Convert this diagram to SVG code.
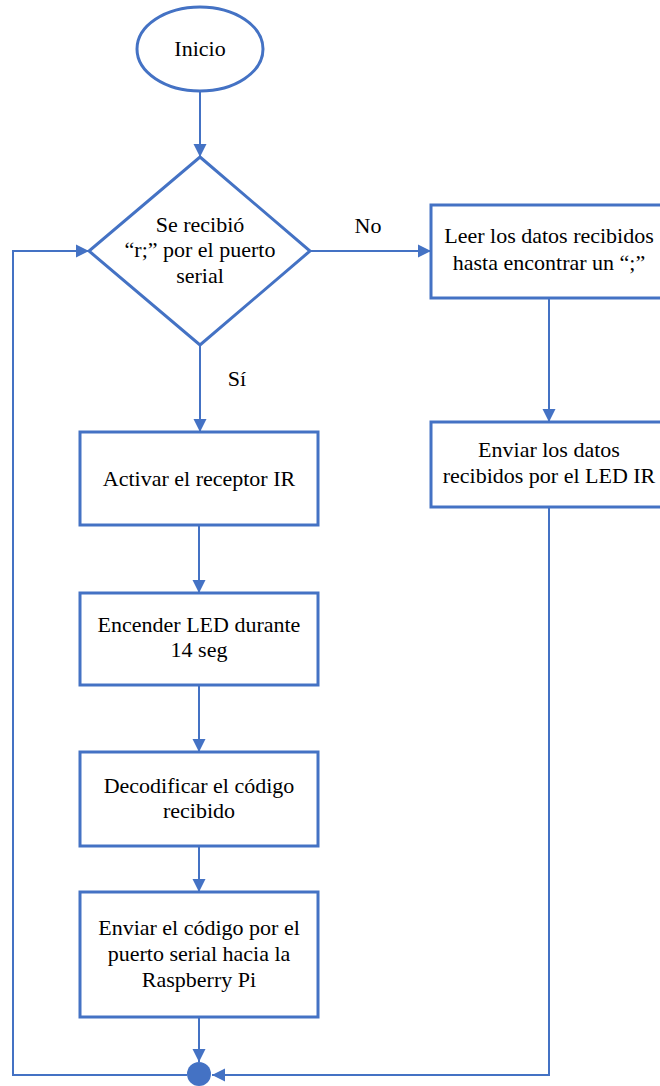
<svg xmlns="http://www.w3.org/2000/svg" width="660" height="1086" viewBox="0 0 660 1086">
<style>
.shape{fill:#fff;stroke:#4472C4;stroke-width:3}
.conn{fill:none;stroke:#4472C4;stroke-width:2}
.t{font-family:'Liberation Serif','Times New Roman',serif;font-size:22px;fill:#000;text-anchor:middle}
</style>
<defs>
<marker id="arr" markerUnits="userSpaceOnUse" markerWidth="14" markerHeight="14" refX="13" refY="7" orient="auto">
<path d="M0,0.5 L13,7 L0,13.5 z" fill="#4472C4"/>
</marker>
</defs>
<rect width="660" height="1086" fill="#fff"/>
<g id="connectors">
<line class="conn" x1="200" y1="91" x2="200" y2="157" marker-end="url(#arr)"/>
<line class="conn" x1="310" y1="251" x2="431" y2="251" marker-end="url(#arr)"/>
<line class="conn" x1="549" y1="298" x2="549" y2="422" marker-end="url(#arr)"/>
<polyline class="conn" points="549,507 549,1075 212,1075" marker-end="url(#arr)"/>
<line class="conn" x1="200" y1="345" x2="200" y2="432" marker-end="url(#arr)"/>
<line class="conn" x1="199" y1="525" x2="199" y2="593" marker-end="url(#arr)"/>
<line class="conn" x1="199" y1="685" x2="199" y2="752" marker-end="url(#arr)"/>
<line class="conn" x1="199" y1="846" x2="199" y2="892" marker-end="url(#arr)"/>
<line class="conn" x1="199" y1="1017" x2="199" y2="1062" marker-end="url(#arr)"/>
<polyline class="conn" points="187,1075 13,1075 13,251 89,251" marker-end="url(#arr)"/>
<text class="t" x="368" y="233">No</text>
<text class="t" x="237" y="386">Sí</text>
</g>
<g id="inicio">
<ellipse class="shape" cx="200" cy="49" rx="63" ry="42"/>
<text class="t" x="200" y="56">Inicio</text>
</g>
<g id="decision">
<polygon class="shape" points="200,157 310,251 200,345 89,251"/>
<text class="t" x="200" y="232">Se recibió</text>
<text class="t" x="200" y="257">“r;” por el puerto</text>
<text class="t" x="200" y="283">serial</text>
</g>
<g id="leer">
<rect class="shape" x="431" y="205" width="237" height="93"/>
<text class="t" x="549" y="243">Leer los datos recibidos</text>
<text class="t" x="549" y="270">hasta encontrar un “;”</text>
</g>
<g id="enviar-datos">
<rect class="shape" x="431" y="422" width="237" height="85"/>
<text class="t" x="549" y="457">Enviar los datos</text>
<text class="t" x="549" y="483">recibidos por el LED IR</text>
</g>
<g id="activar">
<rect class="shape" x="80" y="432" width="238" height="93"/>
<text class="t" x="199" y="486">Activar el receptor IR</text>
</g>
<g id="encender">
<rect class="shape" x="80" y="593" width="238" height="92"/>
<text class="t" x="199" y="632">Encender LED durante</text>
<text class="t" x="199" y="657">14 seg</text>
</g>
<g id="decodificar">
<rect class="shape" x="80" y="752" width="238" height="94"/>
<text class="t" x="199" y="793">Decodificar el código</text>
<text class="t" x="199" y="818">recibido</text>
</g>
<g id="enviar-codigo">
<rect class="shape" x="80" y="892" width="238" height="125"/>
<text class="t" x="199" y="935">Enviar el código por el</text>
<text class="t" x="199" y="961">puerto serial hacia la</text>
<text class="t" x="199" y="987">Raspberry Pi</text>
</g>
<g id="conector">
<circle cx="199" cy="1074" r="12" fill="#4472C4"/>
</g>
</svg>
